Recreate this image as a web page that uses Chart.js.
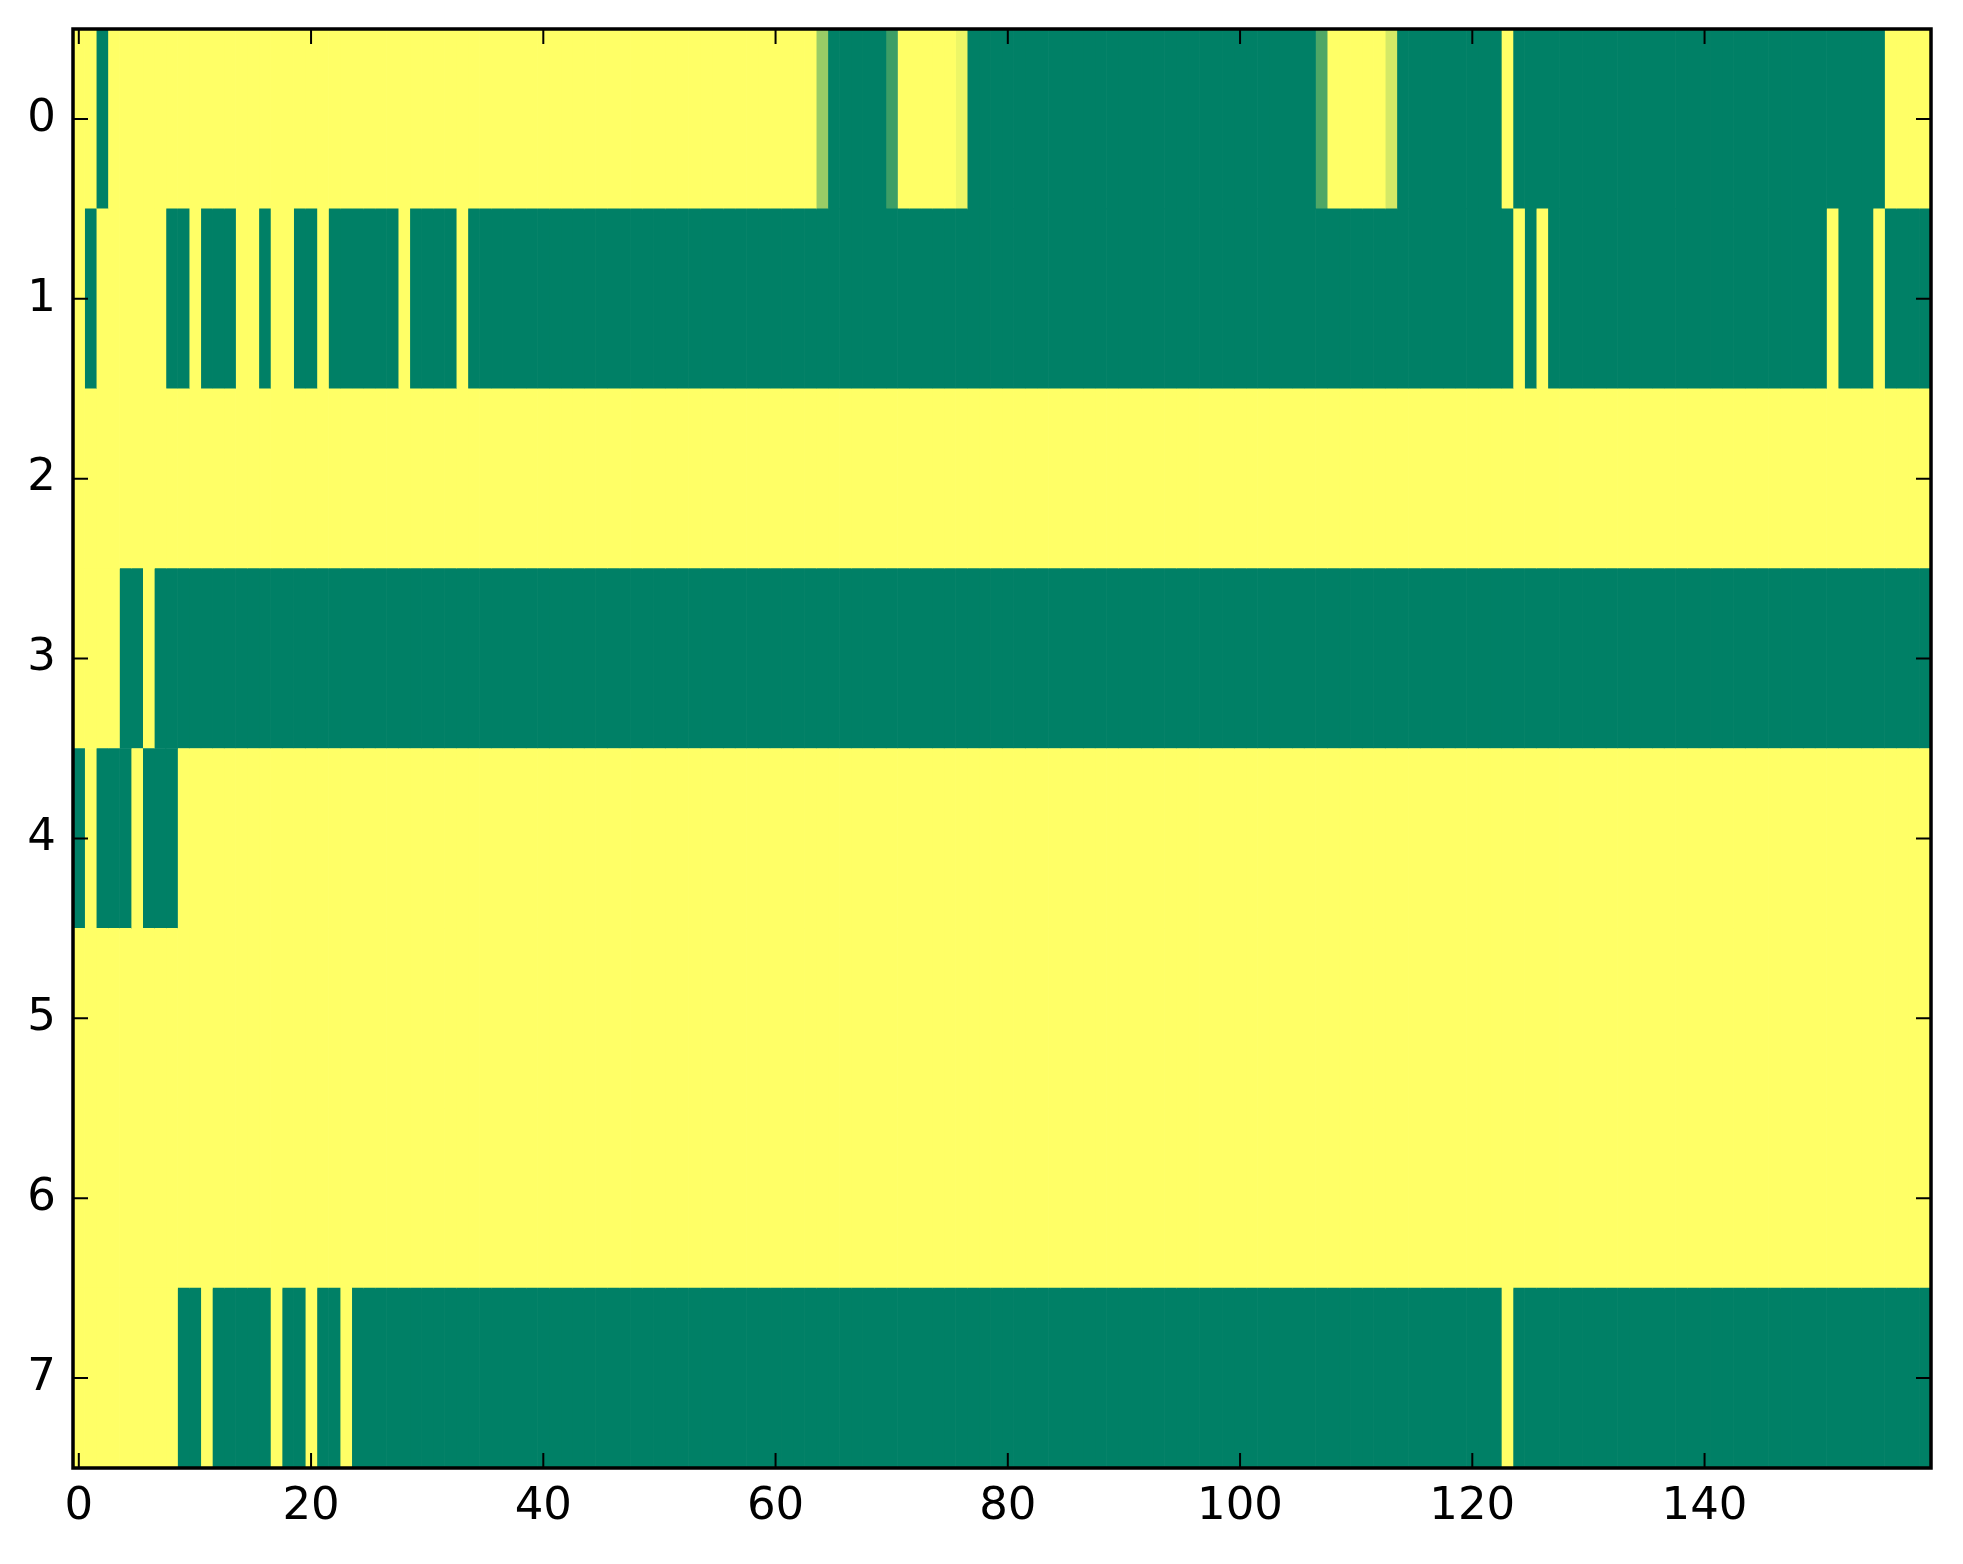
<!DOCTYPE html>
<html lang="en">
<head>
    <meta charset="UTF-8">
    <title>Heatmap</title>
    <script src="https://cdn.jsdelivr.net/npm/chart.js"></script>
    <style>
      body { margin: 0; background: #ffffff; }
      #wrap { width: 1963px; height: 1564px; }
    </style>
</head>
<body>
  <div id="wrap"><canvas id="mapa" width="1963" height="1564"></canvas></div>
  <script>
    // rows of the image (0 = green, 1 = yellow in the summer colormap)
    const rowLabels = ['0', '1', '2', '3', '4', '5', '6', '7'];
    const xTicks = [0, 20, 40, 60, 80, 100, 120, 140];

    const row0 = [
      1,1,0,1,1,1,1,1,1,1,1,1,1,1,1,1,1,1,1,1,
      1,1,1,1,1,1,1,1,1,1,1,1,1,1,1,1,1,1,1,1,
      1,1,1,1,1,1,1,1,1,1,1,1,1,1,1,1,1,1,1,1,
      1,1,1,1,0.6,0,0,0,0,0,0.24,1,1,1,1,1,0.93,0,0,0,
      0,0,0,0,0,0,0,0,0,0,0,0,0,0,0,0,0,0,0,0,
      0,0,0,0,0,0,0,0.31,1,1,1,1,1,0.83,0,0,0,0,0,0,
      0,0,0,1,0,0,0,0,0,0,0,0,0,0,0,0,0,0,0,0,
      0,0,0,0,0,0,0,0,0,0,0,0,0,0,0,0,1,1,1,1
    ];
    const row1 = [
      1,0,1,1,1,1,1,1,0,0,1,0,0,0,1,1,0,1,1,0,
      0,1,0,0,0,0,0,0,1,0,0,0,0,1,0,0,0,0,0,0,
      0,0,0,0,0,0,0,0,0,0,0,0,0,0,0,0,0,0,0,0,
      0,0,0,0,0,0,0,0,0,0,0,0,0,0,0,0,0,0,0,0,
      0,0,0,0,0,0,0,0,0,0,0,0,0,0,0,0,0,0,0,0,
      0,0,0,0,0,0,0,0,0,0,0,0,0,0,0,0,0,0,0,0,
      0,0,0,0,1,0,1,0,0,0,0,0,0,0,0,0,0,0,0,0,
      0,0,0,0,0,0,0,0,0,0,0,1,0,0,0,1,0,0,0,0
    ];
    const row2 = [
      1,1,1,1,1,1,1,1,1,1,1,1,1,1,1,1,1,1,1,1,
      1,1,1,1,1,1,1,1,1,1,1,1,1,1,1,1,1,1,1,1,
      1,1,1,1,1,1,1,1,1,1,1,1,1,1,1,1,1,1,1,1,
      1,1,1,1,1,1,1,1,1,1,1,1,1,1,1,1,1,1,1,1,
      1,1,1,1,1,1,1,1,1,1,1,1,1,1,1,1,1,1,1,1,
      1,1,1,1,1,1,1,1,1,1,1,1,1,1,1,1,1,1,1,1,
      1,1,1,1,1,1,1,1,1,1,1,1,1,1,1,1,1,1,1,1,
      1,1,1,1,1,1,1,1,1,1,1,1,1,1,1,1,1,1,1,1
    ];
    const row3 = [
      1,1,1,1,0,0,1,0,0,0,0,0,0,0,0,0,0,0,0,0,
      0,0,0,0,0,0,0,0,0,0,0,0,0,0,0,0,0,0,0,0,
      0,0,0,0,0,0,0,0,0,0,0,0,0,0,0,0,0,0,0,0,
      0,0,0,0,0,0,0,0,0,0,0,0,0,0,0,0,0,0,0,0,
      0,0,0,0,0,0,0,0,0,0,0,0,0,0,0,0,0,0,0,0,
      0,0,0,0,0,0,0,0,0,0,0,0,0,0,0,0,0,0,0,0,
      0,0,0,0,0,0,0,0,0,0,0,0,0,0,0,0,0,0,0,0,
      0,0,0,0,0,0,0,0,0,0,0,0,0,0,0,0,0,0,0,0
    ];
    const row4 = [
      0,1,0,0,0,1,0,0,0,1,1,1,1,1,1,1,1,1,1,1,
      1,1,1,1,1,1,1,1,1,1,1,1,1,1,1,1,1,1,1,1,
      1,1,1,1,1,1,1,1,1,1,1,1,1,1,1,1,1,1,1,1,
      1,1,1,1,1,1,1,1,1,1,1,1,1,1,1,1,1,1,1,1,
      1,1,1,1,1,1,1,1,1,1,1,1,1,1,1,1,1,1,1,1,
      1,1,1,1,1,1,1,1,1,1,1,1,1,1,1,1,1,1,1,1,
      1,1,1,1,1,1,1,1,1,1,1,1,1,1,1,1,1,1,1,1,
      1,1,1,1,1,1,1,1,1,1,1,1,1,1,1,1,1,1,1,1
    ];
    const row5 = [
      1,1,1,1,1,1,1,1,1,1,1,1,1,1,1,1,1,1,1,1,
      1,1,1,1,1,1,1,1,1,1,1,1,1,1,1,1,1,1,1,1,
      1,1,1,1,1,1,1,1,1,1,1,1,1,1,1,1,1,1,1,1,
      1,1,1,1,1,1,1,1,1,1,1,1,1,1,1,1,1,1,1,1,
      1,1,1,1,1,1,1,1,1,1,1,1,1,1,1,1,1,1,1,1,
      1,1,1,1,1,1,1,1,1,1,1,1,1,1,1,1,1,1,1,1,
      1,1,1,1,1,1,1,1,1,1,1,1,1,1,1,1,1,1,1,1,
      1,1,1,1,1,1,1,1,1,1,1,1,1,1,1,1,1,1,1,1
    ];
    const row6 = [
      1,1,1,1,1,1,1,1,1,1,1,1,1,1,1,1,1,1,1,1,
      1,1,1,1,1,1,1,1,1,1,1,1,1,1,1,1,1,1,1,1,
      1,1,1,1,1,1,1,1,1,1,1,1,1,1,1,1,1,1,1,1,
      1,1,1,1,1,1,1,1,1,1,1,1,1,1,1,1,1,1,1,1,
      1,1,1,1,1,1,1,1,1,1,1,1,1,1,1,1,1,1,1,1,
      1,1,1,1,1,1,1,1,1,1,1,1,1,1,1,1,1,1,1,1,
      1,1,1,1,1,1,1,1,1,1,1,1,1,1,1,1,1,1,1,1,
      1,1,1,1,1,1,1,1,1,1,1,1,1,1,1,1,1,1,1,1
    ];
    const row7 = [
      1,1,1,1,1,1,1,1,1,0,0,1,0,0,0,0,0,1,0,0,
      1,0,0,1,0,0,0,0,0,0,0,0,0,0,0,0,0,0,0,0,
      0,0,0,0,0,0,0,0,0,0,0,0,0,0,0,0,0,0,0,0,
      0,0,0,0,0,0,0,0,0,0,0,0,0,0,0,0,0,0,0,0,
      0,0,0,0,0,0,0,0,0,0,0,0,0,0,0,0,0,0,0,0,
      0,0,0,0,0,0,0,0,0,0,0,0,0,0,0,0,0,0,0,0,
      0,0,0,1,0,0,0,0,0,0,0,0,0,0,0,0,0,0,0,0,
      0,0,0,0,0,0,0,0,0,0,0,0,0,0,0,0,0,0,0,0
    ];

    const rows = [row0, row1, row2, row3, row4, row5, row6, row7];
    const nCols = row0.length;

    // matplotlib "summer": r = v, g = 0.5 + v/2, b = 0.4
    function summer(v) {
      const r = Math.round(255 * v);
      const g = Math.round(255 * (0.5 + 0.5 * v));
      return `rgb(${r}, ${g}, 102)`;
    }

    // one dataset per column, a floating bar per row
    const datasets = [];
    for (let c = 0; c < nCols; c++) {
      datasets.push({
        data: rows.map(() => [c - 0.5, c + 0.5]),
        backgroundColor: rows.map(r => summer(r[c])),
        borderWidth: 0,
        grouped: false,
        barPercentage: 1,
        categoryPercentage: 1
      });
    }

    // black frame and inward ticks on all four sides
    const moldura = {
      id: 'moldura',
      afterDraw(chart) {
        const { ctx, chartArea: a, scales: { x, y } } = chart;
        const len = 15;
        ctx.save();
        ctx.strokeStyle = '#000000';
        ctx.lineWidth = 2;
        ctx.beginPath();
        x.ticks.forEach(t => {
          const px = x.getPixelForValue(t.value);
          ctx.moveTo(px, a.bottom); ctx.lineTo(px, a.bottom - len);
          ctx.moveTo(px, a.top); ctx.lineTo(px, a.top + len);
        });
        y.ticks.forEach((t, i) => {
          const py = y.getPixelForTick(i);
          ctx.moveTo(a.left, py); ctx.lineTo(a.left + len, py);
          ctx.moveTo(a.right, py); ctx.lineTo(a.right - len, py);
        });
        ctx.stroke();
        ctx.lineWidth = 3.5;
        ctx.strokeRect(a.left, a.top, a.width, a.height);
        ctx.restore();
      }
    };

    const fonte = { family: 'DejaVu Sans', size: 45 };

    new Chart(document.getElementById('mapa').getContext('2d'), {
      type: 'bar',
      data: { labels: rowLabels, datasets: datasets },
      plugins: [moldura],
      options: {
        indexAxis: 'y',
        responsive: false,
        animation: false,
        devicePixelRatio: 1,
        layout: { padding: { left: 0, top: 29, right: 32, bottom: 0 } },
        plugins: { legend: { display: false }, tooltip: { enabled: false } },
        scales: {
          x: {
            type: 'linear',
            min: -0.5,
            max: nCols - 0.5,
            afterBuildTicks: ax => { ax.ticks = xTicks.map(v => ({ value: v })); },
            afterFit: ax => { ax.height = 96; ax.paddingLeft = 0; ax.paddingRight = 0; },
            grid: { display: false, drawTicks: false },
            border: { display: false },
            ticks: { color: '#000000', font: fonte, padding: 12, maxRotation: 0, autoSkip: false }
          },
          y: {
            type: 'category',
            labels: rowLabels,
            afterFit: ax => { ax.width = 73; ax.paddingTop = 0; ax.paddingBottom = 0; },
            grid: { display: false, drawTicks: false },
            border: { display: false },
            ticks: { color: '#000000', font: fonte, padding: 17, autoSkip: false }
          }
        }
      }
    });
  </script>
</body>
</html>
